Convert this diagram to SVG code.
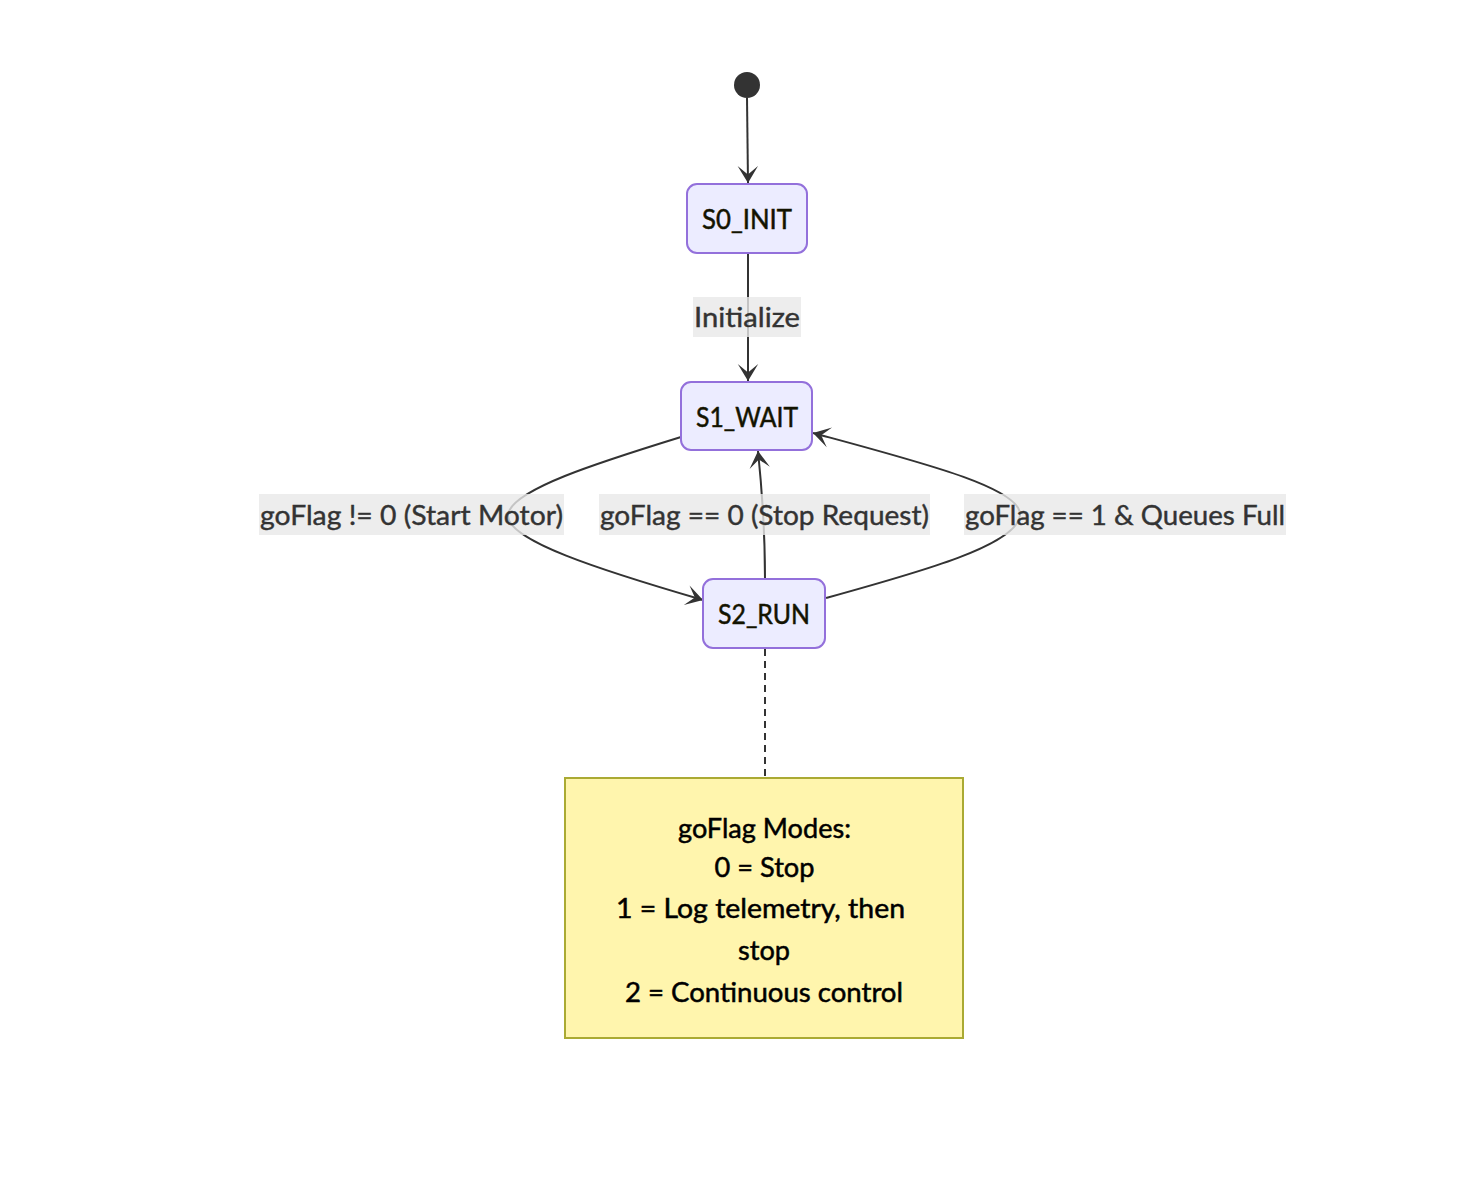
<svg xmlns="http://www.w3.org/2000/svg" width="1483" height="1180" viewBox="0 0 1483 1180">
<defs>
<style>
.state rect{fill:#ECECFF;stroke:#9370DB;stroke-width:2}
.state text{font-family:"Trebuchet MS",Lato,"DejaVu Sans",sans-serif;font-size:27px;fill:#131300;stroke:#131300;stroke-width:0.5;text-anchor:middle}
.edge{fill:none;stroke:#333;stroke-width:2}
.lbl rect{fill:rgba(232,232,232,0.8)}
.lbl text{font-family:"Trebuchet MS",Lato,"DejaVu Sans",sans-serif;font-size:27px;fill:#333;stroke:#333;stroke-width:0.4;text-anchor:middle}
.note rect{fill:#fff5ad;stroke:#aaaa33;stroke-width:2}
.note text{font-family:"Trebuchet MS",Lato,"DejaVu Sans",sans-serif;font-size:27px;fill:#000;stroke:#000;stroke-width:0.5;text-anchor:middle}
</style>
<marker id="barb" viewBox="0 0 20 14" markerUnits="userSpaceOnUse" markerWidth="34" markerHeight="24" refX="19" refY="7" orient="auto">
<path d="M19,7 L9,13 L14,7 L9,1 Z" fill="#333"/>
</marker>
</defs>
<rect width="1483" height="1180" fill="#fff"/>
<g id="connectors">
<path class="edge" d="M747,98 L748,183" marker-end="url(#barb)"/>
<path class="edge" d="M748,253 L748,381" marker-end="url(#barb)"/>
<path class="edge" d="M681,437 C600,462 510,490 508,515 C506,540 600,570 703,600" marker-end="url(#barb)"/>
<path class="edge" d="M765,579 C765,540 762,490 758,451" marker-end="url(#barb)"/>
<path class="edge" d="M826,598 C920,572 1018,545 1020,515 C1022,488 920,462 813,433" marker-end="url(#barb)"/>
<path d="M765,649 L765,778" fill="none" stroke="#333" stroke-width="2" stroke-dasharray="7,5"/>
</g>
<g id="edge-labels">
<g class="lbl" id="lbl-init"><rect x="693" y="297" width="108" height="40"/><text x="747" y="327" textLength="106" lengthAdjust="spacingAndGlyphs">Initialize</text></g>
<g class="lbl" id="lbl-start"><rect x="259" y="494" width="305" height="41"/><text x="411.5" y="525" textLength="303" lengthAdjust="spacingAndGlyphs">goFlag != 0 (Start Motor)</text></g>
<g class="lbl" id="lbl-stop"><rect x="599" y="494" width="331" height="41"/><text x="764.5" y="525" textLength="329" lengthAdjust="spacingAndGlyphs">goFlag == 0 (Stop Request)</text></g>
<g class="lbl" id="lbl-full"><rect x="964" y="494" width="322" height="41"/><text x="1125" y="525" textLength="320" lengthAdjust="spacingAndGlyphs">goFlag == 1 &amp; Queues Full</text></g>
</g>
<g id="start"><circle cx="747" cy="85" r="13" fill="#333"/></g>
<g id="S0_INIT" class="state"><rect x="687" y="184" width="120" height="69" rx="10"/><text x="747" y="229" textLength="90" lengthAdjust="spacingAndGlyphs">S0_INIT</text></g>
<g id="S1_WAIT" class="state"><rect x="681" y="382" width="131" height="68" rx="10"/><text x="747" y="427" textLength="102" lengthAdjust="spacingAndGlyphs">S1_WAIT</text></g>
<g id="S2_RUN" class="state"><rect x="703" y="579" width="122" height="69" rx="10"/><text x="764" y="624" textLength="92" lengthAdjust="spacingAndGlyphs">S2_RUN</text></g>
<g id="note" class="note">
<rect x="565" y="778" width="398" height="260"/>
<text x="764.5" y="838" textLength="173" lengthAdjust="spacingAndGlyphs">goFlag Modes:</text>
<text x="764.5" y="877" textLength="100" lengthAdjust="spacingAndGlyphs">0 = Stop</text>
<text x="760.5" y="918" textLength="289" lengthAdjust="spacingAndGlyphs">1 = Log telemetry, then</text>
<text x="764" y="960" textLength="52" lengthAdjust="spacingAndGlyphs">stop</text>
<text x="764" y="1002" textLength="278" lengthAdjust="spacingAndGlyphs">2 = Continuous control</text>
</g>
</svg>
